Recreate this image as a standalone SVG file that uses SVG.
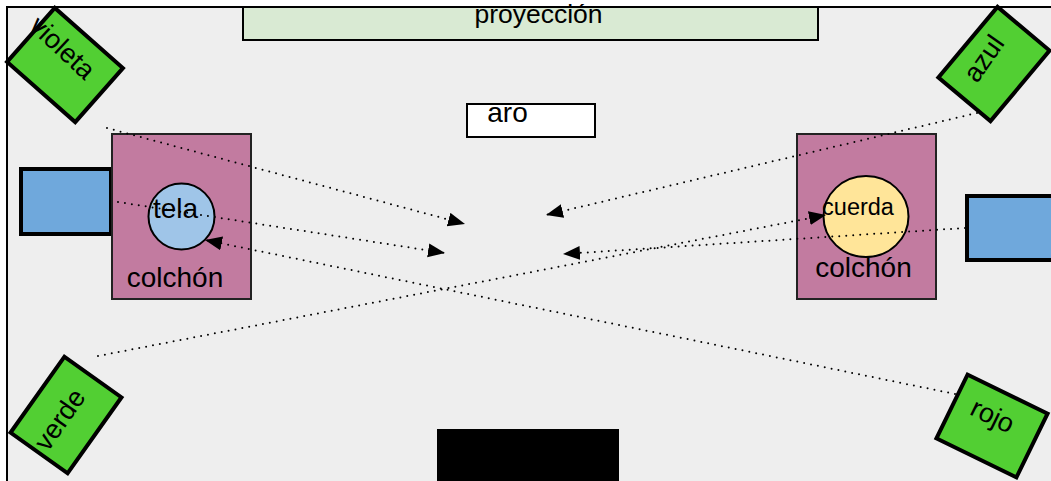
<svg xmlns="http://www.w3.org/2000/svg" width="1051" height="481" viewBox="0 0 1051 481">
<style>
text{font-family:"Liberation Sans",Arial,sans-serif;fill:#000}
.sq{fill:#52cf33;stroke:#000;stroke-width:4}
.blue{fill:#6fa8dc;stroke:#000;stroke-width:4}
.mat{fill:#c27ba0;stroke:#222;stroke-width:2}
.con{fill:none;stroke:#000;stroke-width:2;stroke-dasharray:0 7;stroke-linecap:round}
</style>
<defs>
<marker id="ah" markerUnits="userSpaceOnUse" markerWidth="18" markerHeight="16" refX="17" refY="7" orient="auto">
<path d="M0,0 L17,7 L0,14 z" fill="#000"/>
</marker>
</defs>
<rect x="0" y="0" width="1051" height="481" fill="#fff"/>
<rect id="frame" x="7" y="7" width="1070" height="490" fill="#eeeeee" stroke="#000" stroke-width="2"/>
<g id="proyeccion">
<rect x="243" y="7" width="575" height="33" fill="#d9ead3" stroke="#000" stroke-width="2"/>
<text x="538.5" y="23" font-size="26.5" text-anchor="middle">proyección</text>
</g>
<g id="aro">
<rect x="467" y="104" width="128" height="33" fill="#fff" stroke="#000" stroke-width="2"/>
<text x="507.5" y="122" font-size="28" text-anchor="middle">aro</text>
</g>
<g id="negro">
<rect x="437" y="429" width="182" height="60" fill="#000"/>
</g>
<g id="violeta">
<rect class="sq" x="-45.5" y="-36" width="91" height="72" transform="translate(65,65) rotate(41.5)"/>
<text x="0" y="10" font-size="27" text-anchor="middle" transform="translate(63,47) rotate(43)">violeta</text>
</g>
<g id="azul">
<rect class="sq" x="-46" y="-34" width="92" height="68" transform="translate(994,64) rotate(-50)"/>
<text x="0" y="10" font-size="27" text-anchor="middle" transform="translate(983,58) rotate(-55)">azul</text>
</g>
<g id="verde">
<rect class="sq" x="-46.5" y="-35" width="93" height="70" transform="translate(66,415) rotate(-54.6)"/>
<text x="0" y="10" font-size="27" text-anchor="middle" transform="translate(59,419) rotate(-55)">verde</text>
</g>
<g id="rojo">
<rect class="sq" x="-44.5" y="-35.5" width="89" height="71" transform="translate(992,426) rotate(26)"/>
<text x="0" y="10" font-size="27" text-anchor="middle" transform="translate(993,415) rotate(26)">rojo</text>
</g>
<g id="altavoz-izq">
<rect class="blue" x="21" y="169" width="90" height="65"/>
</g>
<g id="altavoz-der">
<rect class="blue" x="967" y="196" width="100" height="64"/>
</g>
<g id="colchon-izq">
<rect class="mat" x="112" y="134" width="139" height="165"/>
<text x="175" y="287" font-size="28" text-anchor="middle">colchón</text>
</g>
<g id="tela">
<circle cx="181.5" cy="216.5" r="33" fill="#9fc5e8" stroke="#000" stroke-width="2"/>
<text x="175.5" y="218" font-size="28" text-anchor="middle">tela</text>
</g>
<g id="colchon-der">
<rect class="mat" x="797" y="134" width="139" height="165"/>
<text x="863.5" y="277" font-size="28" text-anchor="middle">colchón</text>
</g>
<g id="cuerda">
<ellipse cx="866" cy="216.5" rx="42.5" ry="40.5" fill="#ffe599" stroke="#000" stroke-width="2"/>
<text x="858" y="215" font-size="23.5" text-anchor="middle">cuerda</text>
</g>
<g id="connectors">
<line class="con" x1="107" y1="128" x2="465" y2="224" marker-end="url(#ah)"/>
<line class="con" x1="977" y1="113" x2="546" y2="215" marker-end="url(#ah)"/>
<line class="con" x1="118" y1="202" x2="445" y2="253" marker-end="url(#ah)"/>
<line class="con" x1="965" y1="228" x2="563" y2="254" marker-end="url(#ah)"/>
<line class="con" x1="955" y1="394" x2="205" y2="240" marker-end="url(#ah)"/>
<line class="con" x1="98" y1="356" x2="826" y2="215" marker-end="url(#ah)"/>
</g>
</svg>
